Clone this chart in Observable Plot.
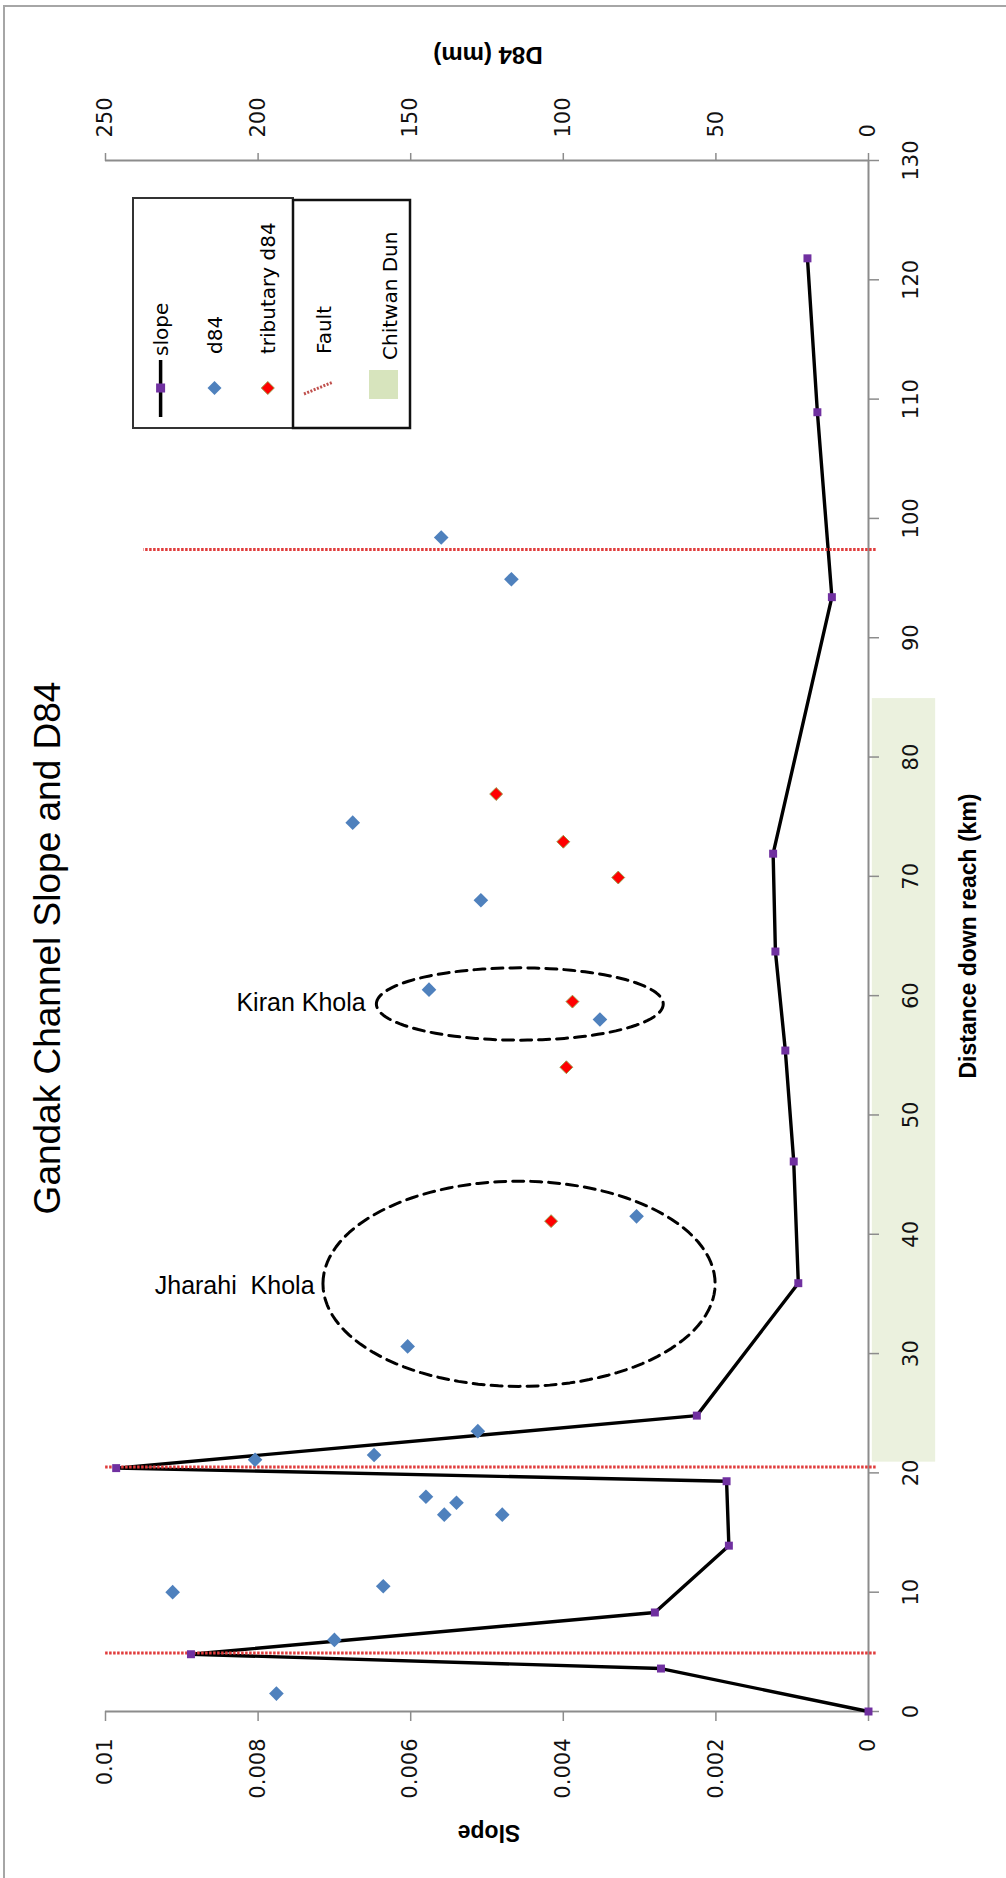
<!DOCTYPE html>
<html><head><meta charset="utf-8">
<script src="https://cdn.jsdelivr.net/npm/d3@7"></script>
<script src="https://cdn.jsdelivr.net/npm/@observablehq/plot@0.6"></script>
<style>
html,body{margin:0;padding:0;background:#fff;}
#wrap{position:relative;width:1006px;height:1878px;overflow:hidden;background:#fff;}
#wrap svg{position:absolute;left:0;top:0;}
.frame{position:absolute;left:3px;top:5px;width:1020px;height:1900px;border-top:2px solid #a6a6a6;border-left:2px solid #a6a6a6;}
.lbl{position:absolute;white-space:nowrap;line-height:1;color:#000;}
</style></head><body><div id="wrap"><div class="frame"></div></div>
<script>
// ---- data ----
const slopeKm  = [0, 3.6, 4.8, 8.3, 13.9, 19.3, 20.4, 24.8, 35.9, 46.1, 55.4, 63.7, 71.9, 93.4, 108.9, 121.8];
const slopeVal = [0, 0.00272, 0.00888, 0.00280, 0.00183, 0.00186, 0.00986, 0.00225, 0.00092, 0.00098, 0.00109, 0.00122, 0.00125, 0.00048, 0.00067, 0.00080];
const d84Km  = [1.5, 6.0, 10.0, 10.5, 16.5, 16.5, 17.5, 18.0, 21.1, 21.5, 23.5, 30.6, 41.5, 58.0, 60.5, 68.0, 74.5, 94.9, 98.4];
const d84Val = [194, 175, 228, 159, 120, 139, 135, 145, 201, 162, 128, 151, 76, 88, 144, 127, 169, 117, 140];
const tribKm  = [41.1, 54.0, 59.5, 69.9, 72.9, 76.9];
const tribVal = [104, 99, 97, 82, 100, 122];
const faultKm    = [4.9, 20.5, 97.4];
const faultReach = [0.0100, 0.0100, 0.0095];
const chitwanKm  = [20.9, 84.9];
const slopeTicks = [0, 0.002, 0.004, 0.006, 0.008, 0.01];
const distTicks  = [0, 10, 20, 30, 40, 50, 60, 70, 80, 90, 100, 110, 120, 130];
const D84_PER_SLOPE = 250 / 0.01;   // secondary axis: 0–250 mm over 0–0.01
const annoLabels = ["Jharahi\u00a0 Khola", "Kiran Khola"];
const annoSlope  = [0.00726, 0.00659];
const annoKm     = [35.7, 59.4];
const ellSlope = [0.00458, 0.00457];
const ellKm    = [35.85, 59.3];
const ellRSlope = [0.00257, 0.00188];
const ellRKm    = [8.6, 3.03];
const legendLabels = ["slope", "d84", "tributary d84", "Fault", "Chitwan Dun"];

// ---- tables ----
const slopeData = slopeKm.map((k, i) => ({km: k, slope: slopeVal[i]}));
const d84Data = d84Km.map((k, i) => ({km: k, d84: d84Val[i]}));
const tribData = tribKm.map((k, i) => ({km: k, d84: tribVal[i]}));
const faultData = faultKm.map((k, i) => ({km: k, reach: faultReach[i]}));
const annoData = annoLabels.map((t, i) => ({label: t, slope: annoSlope[i], km: annoKm[i]}));
const ellData = [];
ellSlope.forEach((s, i) => {
  for (let a = 0; a <= 360; a += 3) {
    const t = a * Math.PI / 180;
    ellData.push({id: i, slope: s + ellRSlope[i] * Math.cos(t), km: ellKm[i] + ellRKm[i] * Math.sin(t)});
  }
});

const axisGray = "#8c8c8c";
const tickFont = 21;
const fmtSlope = d => d === 0 ? "0" : String(+d.toFixed(3));

const chart = Plot.plot({
  width: 1006, height: 1878,
  marginTop: 160, marginRight: 138, marginBottom: 167, marginLeft: 105,
  style: {fontFamily: "'DejaVu Sans', sans-serif", fontSize: "20px", color: "#000", background: "transparent", overflow: "visible"},
  x: {domain: [0.01, 0], axis: null},
  y: {domain: [0, 130], axis: null},
  marks: [
    Plot.rect([{from: chitwanKm[0], to: chitwanKm[1]}], {y1: "from", y2: "to", x1: -0.00005, x2: -0.00088, fill: "#ebf1de"}),
    Plot.ruleY([0, 130], {stroke: axisGray, strokeWidth: 2}),
    Plot.ruleX([0], {stroke: axisGray, strokeWidth: 2}),
    Plot.axisX(slopeTicks, {anchor: "bottom", tickSize: 10, tickPadding: 17, tickRotate: -90, tickFormat: fmtSlope, stroke: axisGray, strokeWidth: 1.5, fill: "#111", fontSize: tickFont, label: null}),
    Plot.axisX(slopeTicks, {anchor: "top", tickSize: 8, tickPadding: 15, tickRotate: -90, tickFormat: d => String(Math.round(d * D84_PER_SLOPE)), stroke: axisGray, strokeWidth: 1.5, fill: "#111", fontSize: tickFont, label: null}),
    Plot.axisY(distTicks, {anchor: "right", tickSize: 10, tickPadding: 33, tickRotate: -90, textAnchor: "middle", lineAnchor: "middle", tickFormat: d => String(d), stroke: axisGray, strokeWidth: 1.5, fill: "#111", fontSize: tickFont, label: null}),
    Plot.line(slopeData, {x: "slope", y: "km", stroke: "#000", strokeWidth: 3.4}),
    Plot.ruleY(faultData, {y: "km", x1: -0.0001, x2: "reach", stroke: "#e03c3c", strokeWidth: 3, strokeDasharray: "2.5,1.5"}),
    Plot.line(ellData, {x: "slope", y: "km", z: "id", stroke: "#000", strokeWidth: 3, strokeDasharray: "11,7"}),
    Plot.dot(slopeData, {x: "slope", y: "km", symbol: "square", r: 4.5, fill: "#7030a0"}),
    Plot.dot(d84Data, {x: d => d.d84 / D84_PER_SLOPE, y: "km", symbol: "diamond2", r: 6.6, fill: "#4f81bd"}),
    Plot.dot(tribData, {x: d => d.d84 / D84_PER_SLOPE, y: "km", symbol: "diamond2", r: 5.8, fill: "#ff0000", stroke: "#9a9a4a", strokeWidth: 1}),
    Plot.text(annoData, {x: "slope", y: "km", text: "label", textAnchor: "end", fontFamily: "'Liberation Sans', Arial, sans-serif", fontSize: 25, fill: "#000"})
  ]
});
const wrap = document.getElementById("wrap");
wrap.appendChild(chart);

// ---- legend (drawn rotated like the chart) ----
const lg = d3.select(wrap).append("svg").attr("width", 1006).attr("height", 1878);
lg.append("rect").attr("x", 133).attr("y", 198).attr("width", 160).attr("height", 230).attr("fill", "#fff").attr("stroke", "#333").attr("stroke-width", 2);
lg.append("rect").attr("x", 293).attr("y", 200).attr("width", 117).attr("height", 228).attr("fill", "#fff").attr("stroke", "#111").attr("stroke-width", 2.5);
lg.append("line").attr("x1", 160.6).attr("x2", 160.6).attr("y1", 360).attr("y2", 417).attr("stroke", "#000").attr("stroke-width", 3.5);
lg.append("rect").attr("x", 156.1).attr("y", 383.5).attr("width", 9).attr("height", 9).attr("fill", "#7030a0");
const diamond = (cx, cy, h) => `M${cx},${cy - h}L${cx + h},${cy}L${cx},${cy + h}L${cx - h},${cy}Z`;
lg.append("path").attr("d", diamond(214.5, 388, 7)).attr("fill", "#4f81bd");
lg.append("path").attr("d", diamond(267.8, 388, 6.5)).attr("fill", "#ff0000").attr("stroke", "#9a9a4a").attr("stroke-width", 1);
lg.append("line").attr("x1", 304).attr("y1", 394).attr("x2", 333).attr("y2", 382).attr("stroke", "#c0504d").attr("stroke-width", 3).attr("stroke-dasharray", "2,1.5");
lg.append("rect").attr("x", 369).attr("y", 370).attr("width", 29).attr("height", 29).attr("fill", "#d7e4bd");
const lx = [160.6, 214.5, 267.8, 323.8, 389.7];
const ly = [356, 354, 354, 354, 360];
legendLabels.forEach((t, i) => {
  lg.append("text").attr("transform", `translate(${lx[i]},${ly[i]}) rotate(-90)`)
    .attr("text-anchor", "start").attr("dominant-baseline", "central")
    .attr("font-family", "'DejaVu Sans', sans-serif").attr("font-size", 20).attr("fill", "#000").text(t);
});

// ---- titles ----
function addLabel(text, cx, cy, rot, css) {
  const d = document.createElement("div");
  d.className = "lbl";
  d.textContent = text;
  d.style.cssText += `left:${cx}px;top:${cy}px;transform:translate(-50%,-50%) rotate(${rot}deg);` + css;
  wrap.appendChild(d);
}
addLabel("Gandak Channel Slope and D84", 48, 948, -90, "font:37px 'Liberation Sans',Arial,sans-serif;");
addLabel("D84 (mm)", 488, 55, 180, "font:bold 24px 'Liberation Sans',Arial,sans-serif;");
addLabel("Slope", 489, 1832, 180, "font:bold 23px 'Liberation Sans',Arial,sans-serif;");
addLabel("Distance down reach (km)", 968, 936, -90, "font:bold 23px 'Liberation Sans',Arial,sans-serif;");
</script>
</body></html>
